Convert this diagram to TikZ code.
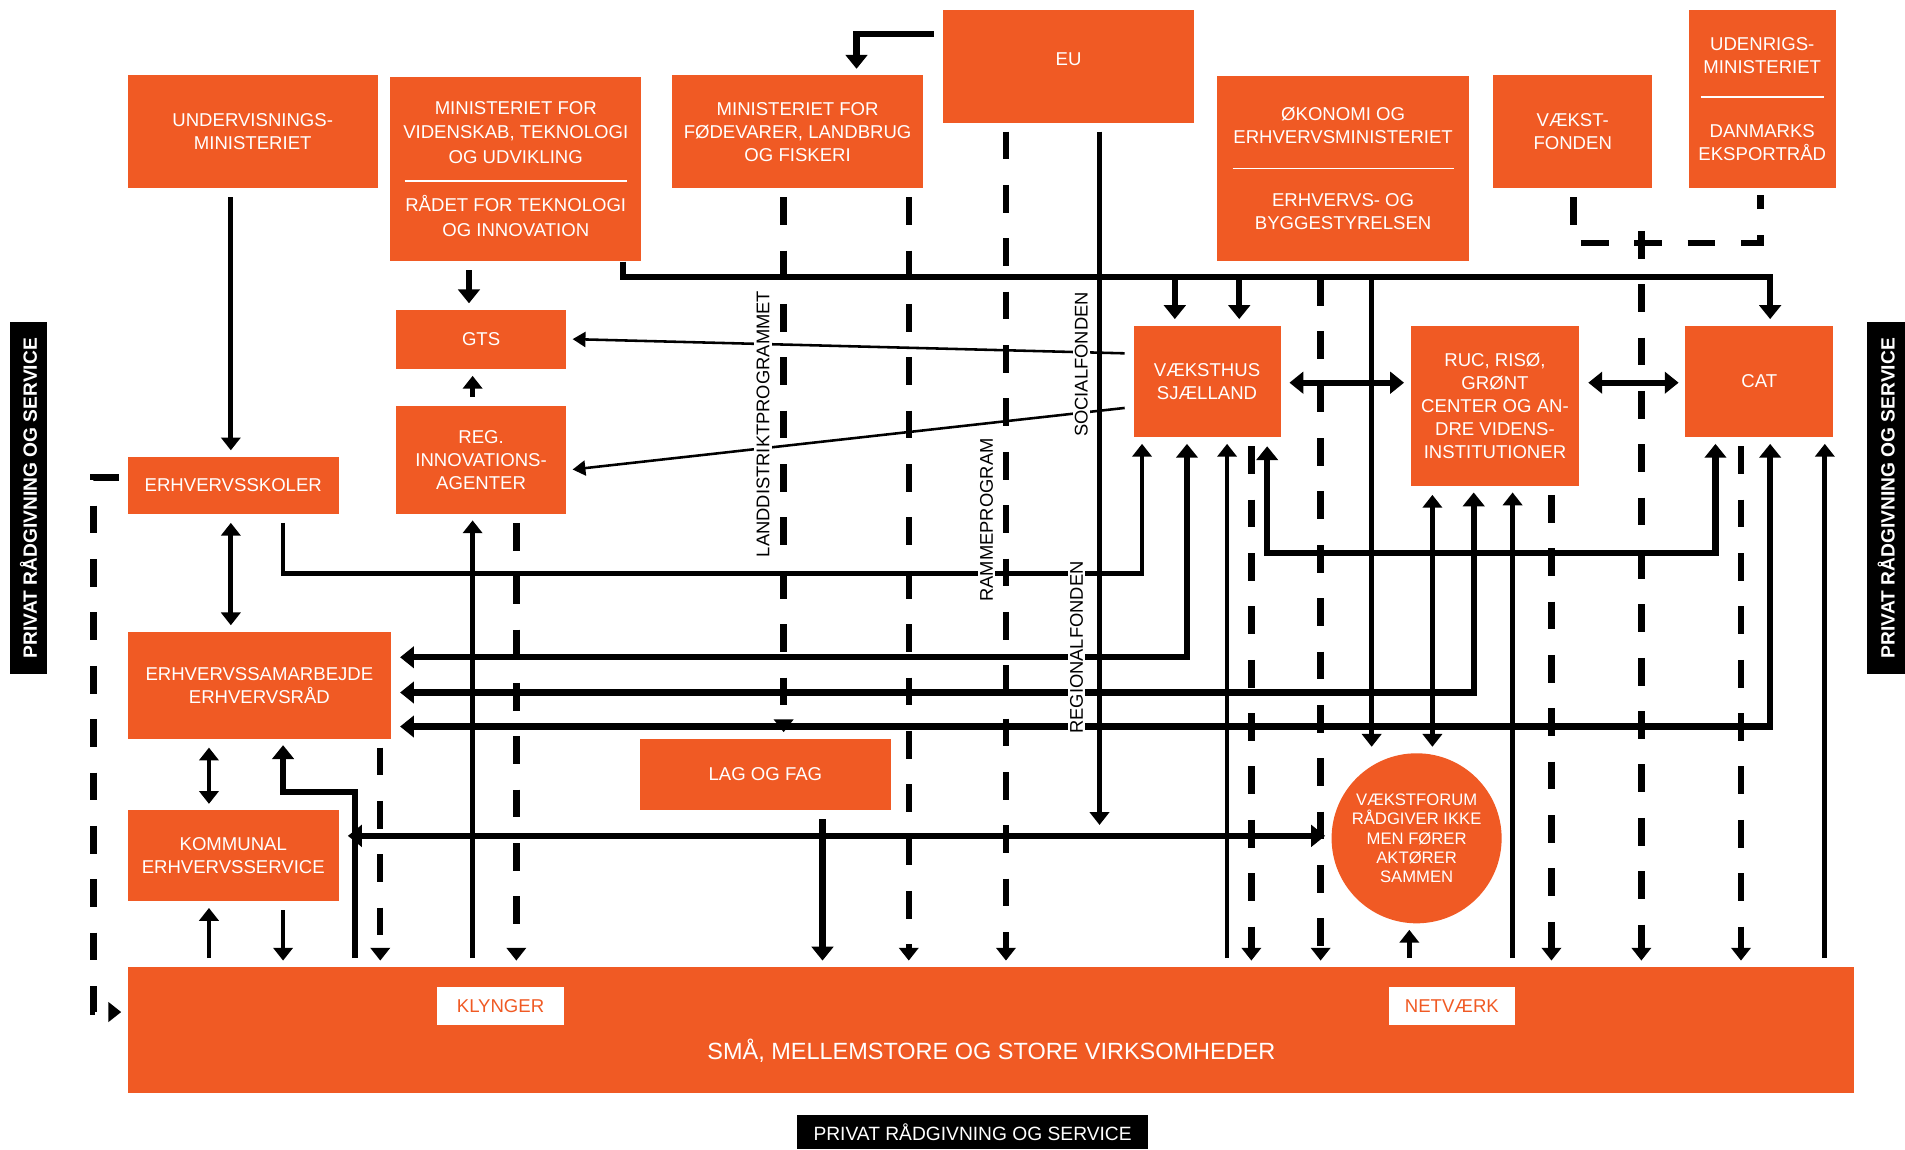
\documentclass[tikz,border=0pt]{standalone}
\usepackage{fontspec}
\setmainfont{Liberation Sans}
\usetikzlibrary{positioning}
\usetikzlibrary{arrows.meta}
\tikzset{>={Triangle[width=9pt,length=6pt]}}
\definecolor{orng}{RGB}{240,90,36}

\begin{document}
\begin{tikzpicture}[x=0.02cm, y=-0.02cm,
    box/.style={fill=orng, text=white, align=center, inner sep=0pt, font=\fontsize{8.7}{10.8}\selectfont},
    whitebox/.style={fill=white, text=orng, inner sep=0pt, font=\fontsize{8.7}{10.8}\selectfont},
    blackbox/.style={fill=black, text=white, inner sep=0pt, font=\bfseries\fontsize{9}{10}\selectfont},
    sidetext/.style={fill=white, rotate=90, inner sep=1pt, font=\fontsize{8.6}{10}\selectfont},
    arr/.style={line width=2.2pt, shorten >=0.1cm, shorten <=0.14cm},
    tarr/.style={line width=3pt, shorten >=0.1cm, shorten <=0.14cm, >={Triangle[width=10pt,length=6.5pt]}},
    thinarr/.style={line width=1.2pt, shorten >=0.1cm, shorten <=0.14cm, >={Triangle[width=7pt,length=6pt]}},
    dline/.style={line width=3pt, dash pattern=on 13pt off 12pt, shorten >=0.1cm, shorten <=0.14cm}]

    \useasboundingbox (0,0) rectangle (1568,946);

    %Nodes
    \node[box, minimum width=4.12cm, minimum height=1.86cm](und) at (208,108.5) {UNDERVISNINGS-\\MINISTERIET};
    \node[box, minimum width=4.14cm, minimum height=3.04cm, font=\fontsize{8.7}{11.4}\selectfont](mvt) at (424.5,139) {MINISTERIET FOR\\VIDENSKAB, TEKNOLOGI\\OG UDVIKLING\\\rule[0.3em]{3.66cm}{0.7pt}\\RÅDET FOR TEKNOLOGI\\OG INNOVATION};
    \node[box, minimum width=4.14cm, minimum height=1.86cm](mff) at (656.5,108.5) {MINISTERIET FOR\\FØDEVARER, LANDBRUG\\OG FISKERI};
    \node[box, minimum width=4.14cm, minimum height=1.86cm](eu) at (879.5,54.5) {\raisebox{6.5pt}{EU}};
    \node[box, minimum width=4.14cm, minimum height=3.04cm](oko) at (1105.5,138.5) {ØKONOMI OG\\ERHVERVSMINISTERIET\\[4pt]\rule[0.3em]{3.64cm}{0.7pt}\\[4pt]ERHVERVS- OG\\BYGGESTYRELSEN};
    \node[box, minimum width=2.62cm, minimum height=1.86cm](vfond) at (1294.5,108.5) {VÆKST-\\FONDEN};
    \node[box, minimum width=2.42cm, minimum height=2.94cm](udr) at (1450.5,81.5) {UDENRIGS-\\MINISTERIET\\[3pt]\rule[0.3em]{2.02cm}{0.7pt}\\[5pt]DANMARKS\\EKSPORTRÅD};
    \node[box, minimum width=2.8cm, minimum height=0.98cm](gts) at (396,279.5) {GTS};
    \node[box, minimum width=2.8cm, minimum height=1.78cm](reg) at (396,378.5) {REG.\\INNOVATIONS-\\AGENTER};
    \node[box, minimum width=3.48cm, minimum height=0.94cm](skoler) at (192,399.5) {ERHVERVSSKOLER};
    \node[box, minimum width=4.34cm, minimum height=1.76cm](samarb) at (213.5,564) {ERHVERVSSAMARBEJDE\\ERHVERVSRÅD};
    \node[box, minimum width=3.48cm, minimum height=1.5cm](kommunal) at (192,704.5) {KOMMUNAL\\ERHVERVSSERVICE};
    \node[box, minimum width=4.12cm, minimum height=1.18cm](lagfag) at (630,637.5) {LAG OG FAG};
    \node[box, minimum width=2.42cm, minimum height=1.84cm](vaeksthus) at (993.5,314) {VÆKSTHUS\\SJÆLLAND};
    \node[box, minimum width=2.78cm, minimum height=2.64cm](ruc) at (1230.5,334) {RUC, RISØ,\\GRØNT\\CENTER OG AN-\\DRE VIDENS-\\INSTITUTIONER};
    \node[box, minimum width=2.44cm, minimum height=1.84cm](cat) at (1448,314) {CAT};
    \node[box, circle, minimum size=2.8cm, font=\fontsize{7.8}{9}\selectfont](vforum) at (1166,690) {VÆKSTFORUM\\RÅDGIVER IKKE\\MEN FØRER\\AKTØRER\\SAMMEN};
    \node[box, minimum width=28.42cm, minimum height=2.08cm](sma) at (815.5,848) {};
    \node[box, font=\fontsize{11}{13}\selectfont](smatext) at (816,865) {SMÅ, MELLEMSTORE OG STORE VIRKSOMHEDER};
    \node[whitebox, minimum width=2.08cm, minimum height=0.64cm](klynger) at (412,828) {KLYNGER};
    \node[whitebox, minimum width=2.08cm, minimum height=0.64cm](netv) at (1195,828) {NETVÆRK};
    \node[blackbox, rotate=90, minimum width=5.8cm, minimum height=0.62cm](privl) at (23.5,410) {PRIVAT RÅDGIVNING OG SERVICE};
    \node[blackbox, rotate=90, minimum width=5.8cm, minimum height=0.62cm](privr) at (1552.5,410) {PRIVAT RÅDGIVNING OG SERVICE};
    \node[blackbox, font=\fontsize{9}{10}\selectfont, minimum width=5.78cm, minimum height=0.56cm](privb) at (800.5,932) {PRIVAT RÅDGIVNING OG SERVICE};
    \coordinate (bus) at (513,228);
    \coordinate (eufoot) at (905,684);
    \coordinate (fondjoin) at (1351,200);

    %Lines
    \draw[arr,->] (und.south -| 190,0) -- (skoler.north -| 190,0);
    \draw[arr,<->] (skoler.south -| 190,0) -- (samarb.north -| 190,0);
    \draw[arr,<->] (samarb.south -| 172,0) -- (kommunal.north -| 172,0);
    \draw[arr,->] (sma.north -| 172,0) -- (kommunal.south -| 172,0);
    \draw[arr,->] (kommunal.south -| 233,0) -- (sma.north -| 233,0);
    \draw[tarr,->] (mvt.south -| 386,0) -- (gts.north -| 386,0);
    \draw[arr,->] (reg.north -| 389,0) -- (gts.south -| 389,0);
    \draw[arr,->] (sma.north -| 389,0) -- (reg.south -| 389,0);
    \draw[arr,->] (skoler.south -| 233,0) |- (940,472) -- (vaeksthus.south -| 940,0);
    \draw[thinarr,->] (vaeksthus.west |- 0,291) -- (gts.east |- 0,279);
    \draw[thinarr,->] (vaeksthus.west |- 0,335) -- (reg.east |- 0,387);

    \draw[tarr,->,shorten <=0pt] (mvt.south -| bus) |- (1457,228) -- (cat.north -| 1457,0);
    \draw[tarr,->,shorten <=0pt] (bus -| 967,0) -- (vaeksthus.north -| 967,0);
    \draw[tarr,->,shorten <=0pt] (bus -| 1020,0) -- (vaeksthus.north -| 1020,0);
    \draw[arr,->,shorten <=0pt] (bus -| 1129,0) -- (vforum.north -| 1129,0);
    \draw[arr,->] (eu.south -| eufoot) -- (eufoot);
    \draw[tarr,->] (eu.west |- 0,28) -| (mff.north -| 705,0);

    \draw[tarr,<->] (vaeksthus.east |- 0,315) -- (ruc.west |- 0,315);
    \draw[tarr,<->] (ruc.east |- 0,315) -- (cat.west |- 0,315);
    \draw[tarr,<->] (samarb.east |- 0,541) -| (vaeksthus.south -| 977,0);
    \draw[tarr,<->] (samarb.east |- 0,570) -| (ruc.south -| 1213,0);
    \draw[tarr,<->] (samarb.east |- 0,598) -| (cat.south -| 1457,0);
    \draw[tarr,<->] (vaeksthus.south -| 1043,0) |- (1412,455) -- (cat.south -| 1412,0);

    \draw[arr,->] (sma.north -| 1010,0) -- (vaeksthus.south -| 1010,0);
    \draw[arr,<->] (ruc.south -| 1179,0) -- (vforum.north -| 1179,0);
    \draw[arr,->] (sma.north -| 1245,0) -- (ruc.south -| 1245,0);
    \draw[arr,->] (sma.north -| 1502,0) -- (cat.south -| 1502,0);
    \draw[arr,->] (sma.north -| 1160,0) -- (vforum.south -| 1160,0);
    \draw[tarr,<->] (kommunal.east |- 0,688) -- (vforum.west |- 0,688);
    \draw[tarr,->] (lagfag.south -| 677,0) -- (sma.north -| 677,0);
    \draw[tarr,->] (sma.north -| 292,0) |- (233,652) -- (samarb.south -| 233,0);

    \draw[dline,->] (mff.south -| 645,0) -- (lagfag.north -| 645,0);
    \draw[dline,->] (mff.south -| 748,0) -- (sma.north -| 748,0);
    \draw[dline,->] (eu.south -| 828,0) -- (sma.north -| 828,0);
    \draw[dline,->,shorten <=0.28cm] (oko.south -| 1087,0) -- (sma.north -| 1087,0);
    \draw[dline,->] (vaeksthus.south -| 1030,0) -- (sma.north -| 1030,0);
    \draw[dline,->] (ruc.south -| 1277,0) -- (sma.north -| 1277,0);
    \draw[dline,->] (cat.south -| 1433,0) -- (sma.north -| 1433,0);
    \draw[dline,->] (reg.south -| 425,0) -- (sma.north -| 425,0);
    \draw[dline,->] (samarb.south -| 313,0) -- (sma.north -| 313,0);
    \draw[dline] (vfond.south -| 1295,0) |- (fondjoin) -| (udr.south -| 1449,0);
    \draw[dline,->,shorten <=-0.2cm] (fondjoin) -- (sma.north -| fondjoin);
    \draw[dline,->] (skoler.west |- 0,393) -| (77,833) -- (sma.west |- 0,833);

    %Labels
    \node[sidetext](landd) at (628,349) {LANDDISTRIKTPROGRAMMET};
    \node[sidetext](ramme) at (812,428) {RAMMEPROGRAM};
    \node[sidetext](social) at (890,300) {SOCIALFONDEN};
    \node[sidetext](regional) at (886,533) {REGIONALFONDEN};

\end{tikzpicture}
\end{document}
